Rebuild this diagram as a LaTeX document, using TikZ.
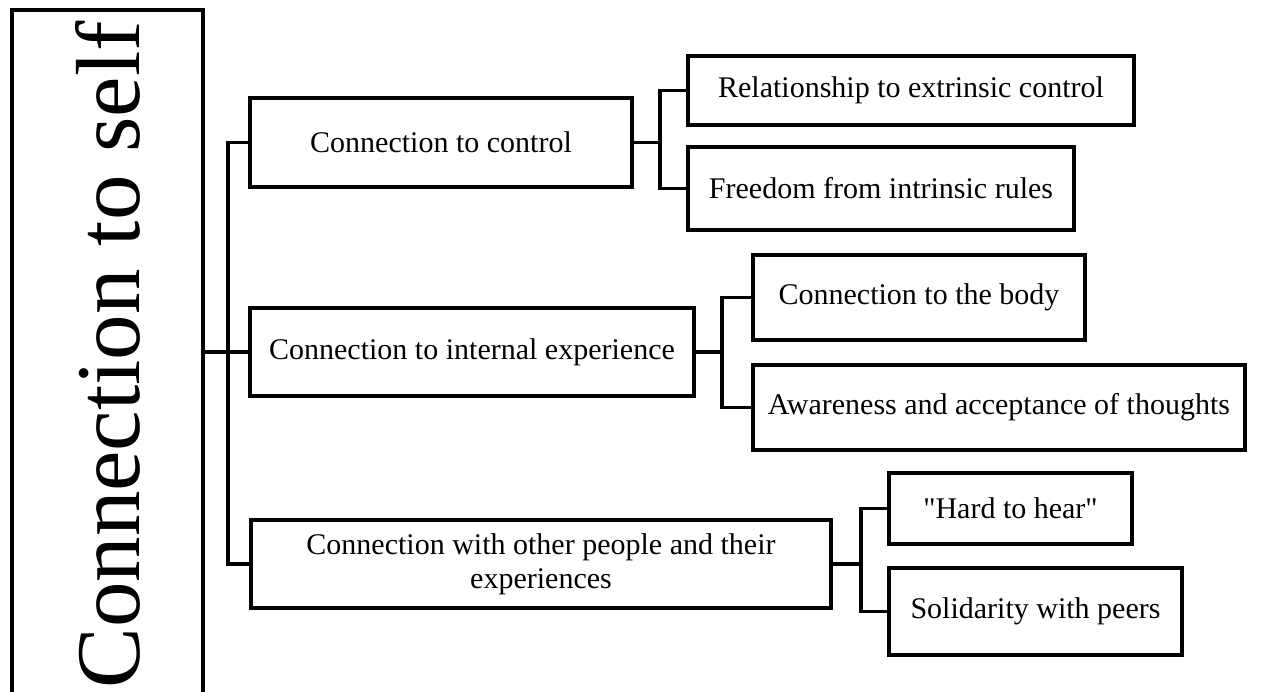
\documentclass[tikz,border=0pt]{standalone}
\usepackage{fontspec}
\setmainfont{Liberation Serif}
% straight double quote, set as a glyph so the TeX ligature mapping leaves it alone
\newcommand\straightquote{\XeTeXglyph\XeTeXcharglyph"22\relax}
\begin{document}
\begin{tikzpicture}[x=1pt,y=-1pt,
  box/.style={draw=black,line width=3.5pt,inner sep=0pt,fill=white,
    font=\fontsize{30}{34}\selectfont,align=center},
  link/.style={draw=black,line width=3.2pt,line cap=rect}]
\useasboundingbox (0,0) rectangle (1263,691);

% root box, open at the bottom edge of the page
\begin{scope}
  \clip (0,0) rectangle (1263,691);
  \node[box,rotate=90,minimum width=690pt,minimum height=191pt,
        font=\fontsize{91}{91}\selectfont] (root) at (107.5,355) {Connection to self};
\end{scope}

% second level
\node[box,minimum width=382pt,minimum height=89pt] (m1) at (441,142.5) {Connection to control};
\node[box,minimum width=444pt,minimum height=88pt] (m2) at (472,352) {Connection to internal experience};
\node[box,minimum width=580pt,minimum height=88pt] (m3) at (541,564) {Connection with other people and their\\experiences};

% third level
\node[box,minimum width=446pt,minimum height=69pt] (c1) at (911,90.5) {Relationship to extrinsic control};
\node[box,minimum width=386pt,minimum height=83pt] (c2) at (881,188.5) {Freedom from intrinsic rules};
\node[box,minimum width=332pt,minimum height=85pt] (c3) at (919,297.5) {Connection to the body};
\node[box,minimum width=492pt,minimum height=85pt] (c4) at (999,407.5) {Awareness and acceptance of thoughts};
\node[box,minimum width=243pt,minimum height=71pt] (c5) at (1010.5,508.5) {\straightquote Hard to hear\straightquote};
\node[box,minimum width=293pt,minimum height=87pt] (c6) at (1035.5,611.5) {Solidarity with peers};

% branch points
\coordinate (t0) at (228,0);
\coordinate (t1) at (660,0);
\coordinate (t2) at (722,0);
\coordinate (t3) at (861,0);

% root to second level
\draw[link] (root.south |- m2.west) -- (m2.west);
\draw[link] (m1.west) -- (t0 |- m1.west) -- (t0 |- m3.west) -- (m3.west);

% second level to third level
\draw[link] (m1.east) -- (t1 |- m1.east);
\draw[link] (c1.west) -- (t1 |- c1.west) -- (t1 |- c2.west) -- (c2.west);
\draw[link] (m2.east) -- (t2 |- m2.east);
\draw[link] (c3.west) -- (t2 |- c3.west) -- (t2 |- c4.west) -- (c4.west);
\draw[link] (m3.east) -- (t3 |- m3.east);
\draw[link] (c5.west) -- (t3 |- c5.west) -- (t3 |- c6.west) -- (c6.west);
\end{tikzpicture}
\end{document}
